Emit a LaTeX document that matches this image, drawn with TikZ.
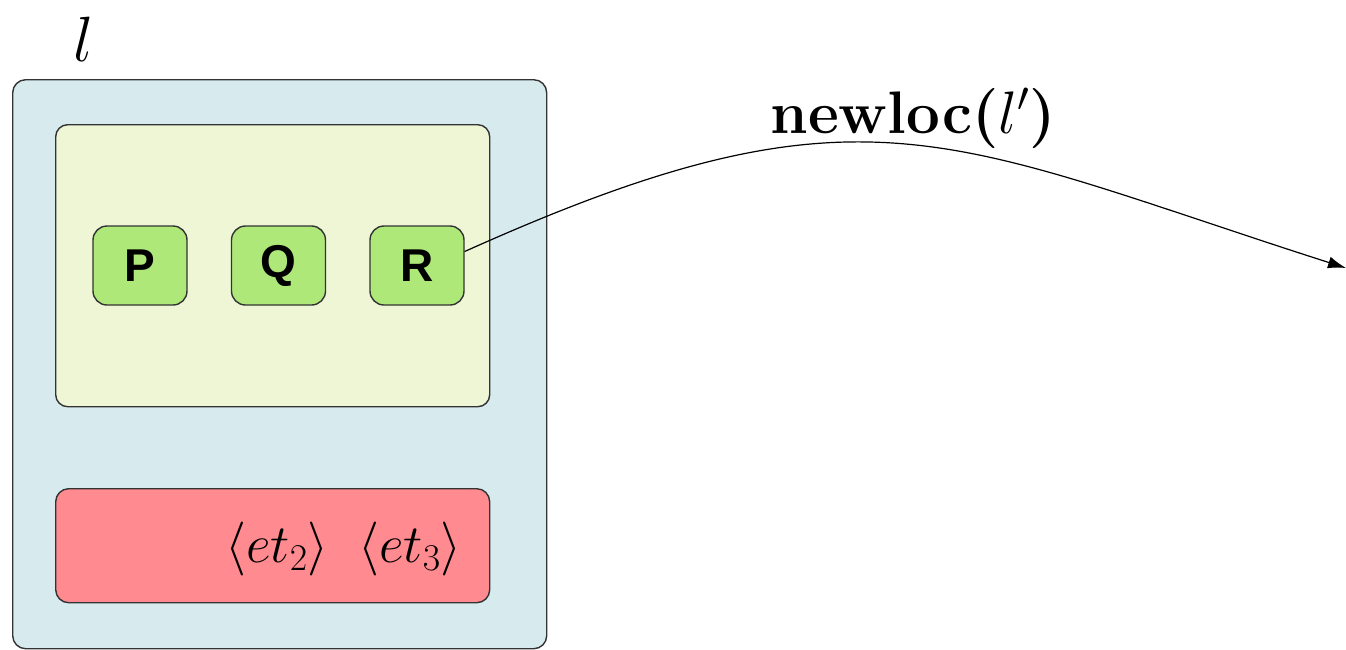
\documentclass[tikz,border=0pt]{standalone}
\usepackage{fix-cm}
\usepackage{fontspec}
\newfontfamily\hvsans{Liberation Sans}
\usetikzlibrary{arrows.meta}
\definecolor{outerfill}{HTML}{D7EBEF}
\definecolor{innerfill}{HTML}{EFF6D6}
\definecolor{procfill}{HTML}{AEE878}
\definecolor{msgfill}{HTML}{FF8A8F}
\definecolor{edge}{HTML}{333333}
\tikzset{
  boxbase/.style={draw=edge, line width=1.4pt, rounded corners=13pt, inner sep=0pt, anchor=north west},
  procbox/.style={draw=edge, line width=1.4pt, rounded corners=14pt, fill=procfill,
    minimum width=94pt, minimum height=79pt, inner sep=0pt,
    font={\hvsans\bfseries\fontsize{46}{50}\selectfont}},
  lbl/.style={inner sep=0pt, anchor=base}
}
\begin{document}
\begin{tikzpicture}[x=1pt,y=-1pt]
\useasboundingbox (0,0) rectangle (1346,649);
\node[boxbase, fill=outerfill, minimum width=534pt, minimum height=569pt] (loc) at (12,79) {};
\node[boxbase, fill=innerfill, minimum width=434pt, minimum height=282pt, rounded corners=12pt] (proc) at (55,124) {};
\node[boxbase, fill=msgfill, minimum width=434pt, minimum height=114pt] (msgs) at (55,488) {};
\node[procbox] (P) at (140,265.5) {P};
\node[procbox] (Q) at (278.5,265.5) {Q};
\node[procbox] (R) at (417,265.5) {R};
\node[lbl, font=\fontsize{64}{70}\selectfont] (lname) at (84,61) {$l$};
\node[lbl, font=\fontsize{54}{60}\selectfont] (et2) at (277,562) {$\langle et_2\rangle$};
\node[lbl, font=\fontsize{54}{60}\selectfont] (et3) at (410,562) {$\langle et_3\rangle$};
\node[lbl, font=\bfseries\fontsize{60}{66}\selectfont] (nl) at (913,133) {newloc($l'$)};
\coordinate (dest) at (1346,268);
\draw[line width=1.2pt, -{Latex[length=18pt,width=12pt]}] ([yshift=14pt]R.east) .. controls (864,72) and (946,140) .. (dest);
\end{tikzpicture}
\end{document}
